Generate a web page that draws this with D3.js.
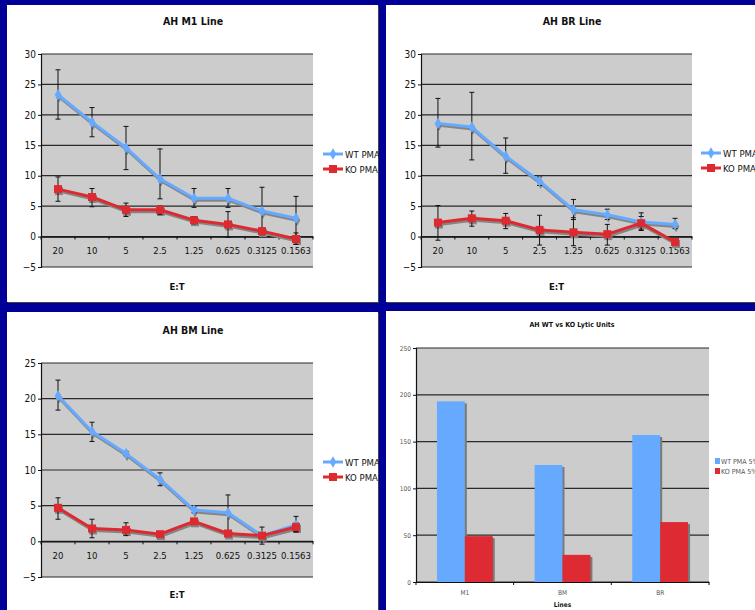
<!DOCTYPE html>
<html><head><meta charset="utf-8">
<script src="https://cdn.jsdelivr.net/npm/d3@7"></script>
<style>
html,body{margin:0;padding:0;background:#000099;overflow:hidden;}
svg{display:block;}
text{font-family:"DejaVu Sans Condensed","DejaVu Sans",sans-serif;}
</style></head>
<body>
<svg id="c" width="755" height="610"></svg>
<script>
// ---- data ----
const categories = ["20","10","5","2.5","1.25","0.625","0.3125","0.1563"];
const seriesNames = ["WT PMA","KO PMA"];

const m1WT   = [23.3,18.8,14.6,9.5,6.3,6.3,4.2,3.0];
const m1WTLo = [19.3,16.4,11.0,6.2,4.8,4.8,0.3,-0.6];
const m1WTHi = [27.4,21.2,18.1,14.4,7.9,7.9,8.1,6.6];
const m1KO   = [7.8,6.5,4.4,4.4,2.7,2.0,0.9,-0.4];
const m1KOLo = [5.8,4.9,3.3,3.6,2.1,-0.1,0.4,-1.3];
const m1KOHi = [9.8,7.9,5.5,5.0,3.3,4.1,1.4,0.6];

const brWT   = [18.6,18.0,13.2,9.1,4.4,3.6,2.4,2.0];
const brWTLo = [14.7,12.6,10.4,8.4,2.8,2.8,1.1,1.3];
const brWTHi = [22.7,23.7,16.2,9.8,6.1,4.5,3.9,3.0];
const brKO   = [2.3,3.0,2.6,1.1,0.7,0.4,2.2,-0.9];
const brKOLo = [-0.6,1.7,1.3,-1.4,-1.5,-1.4,1.0,-1.2];
const brKOHi = [5.1,4.2,3.8,3.5,3.1,2.0,3.3,-0.6];

const bmWT   = [20.4,15.4,12.3,8.7,4.4,4.0,0.8,2.3];
const bmWTLo = [18.4,14.0,12.0,7.8,4.0,1.3,-0.4,1.3];
const bmWTHi = [22.6,16.7,12.6,9.6,4.8,6.5,2.0,3.5];
const bmKO   = [4.7,1.8,1.6,1.0,2.8,1.1,0.8,2.0];
const bmKOLo = [3.1,0.5,0.8,0.7,2.4,0.8,0.4,1.4];
const bmKOHi = [6.1,3.1,2.6,1.3,3.2,1.4,1.2,2.6];

const m1Ticks = [-5,0,5,10,15,20,25,30];
const brTicks = [-5,0,5,10,15,20,25,30];
const bmTicks = [-5,0,5,10,15,20,25];

const cellLines = ["M1","BM","BR"];
const barSeries = ["WT PMA 5%","KO PMA 5%"];
const wtLytic = [193,125,157];
const koLytic = [49,29,64];
const barTicks = [0,50,100,150,200,250];

// ---- style ----
const BLUE = "#66aaff", RED = "#dd2a30", PLOT = "#cccccc", GRID = "#2a2a2a", SHADOW = "#858585";

const svg = d3.select("#c");

// panels
const panels = [[7,5,371,297],[386,5,375,297],[7,312,371,300],[386,311,375,300]];
panels.forEach(p=>{
  svg.append("rect").attr("x",p[0]+1).attr("y",p[1]+1).attr("width",p[2]).attr("height",p[3]).attr("fill","#444");
  svg.append("rect").attr("x",p[0]).attr("y",p[1]).attr("width",p[2]).attr("height",p[3]).attr("fill","#fff");
});

function lineChart(cfg){
  const g = svg.append("g");
  const x = d3.scaleBand().domain(categories).range([cfg.x0,cfg.x1]);
  const y = d3.scaleLinear().domain(cfg.domain).range([cfg.y1,cfg.y0]);
  g.append("rect").attr("x",cfg.x0).attr("y",cfg.y0).attr("width",cfg.x1-cfg.x0).attr("height",cfg.y1-cfg.y0).attr("fill",PLOT);
  g.selectAll(".gl").data(cfg.ticks).join("line")
    .attr("x1",cfg.x0).attr("x2",cfg.x1).attr("y1",d=>y(d)).attr("y2",d=>y(d))
    .attr("stroke",GRID).attr("stroke-width",1.2);
  const ya = g.append("g").attr("transform",`translate(${cfg.x0},0)`)
    .call(d3.axisLeft(y).tickValues(cfg.ticks).tickSize(3).tickPadding(2));
  ya.select(".domain").attr("stroke","#111").attr("stroke-width",1.2);
  ya.selectAll(".tick line").attr("stroke","#111");
  ya.selectAll("text").attr("font-size",10).attr("fill","#111").attr("font-family",'"DejaVu Sans Condensed",sans-serif');
  const xa = g.append("g").attr("transform",`translate(0,${y(0)})`)
    .call(d3.axisBottom(x).tickSize(0).tickPadding(11));
  xa.select(".domain").attr("stroke","#111").attr("stroke-width",1.2);
  xa.selectAll("text").attr("font-size",9.5).attr("fill","#111").attr("font-family",'"DejaVu Sans Condensed",sans-serif');
  const bounds = categories.map(c=>x(c)).concat([cfg.x1]);
  g.selectAll(".bt").data(bounds).join("line")
    .attr("x1",d=>d).attr("x2",d=>d).attr("y1",y(0)).attr("y2",y(0)+3)
    .attr("stroke","#111");
  g.append("text").attr("x",cfg.tx).attr("y",cfg.ty).attr("text-anchor","middle")
    .attr("font-size",10.5).attr("font-weight","bold").attr("fill","#111").text(cfg.title);
  g.append("text").attr("x",(cfg.x0+cfg.x1)/2).attr("y",cfg.ay).attr("text-anchor","middle")
    .attr("font-size",9.5).attr("font-weight","bold").attr("fill","#111").text("E:T");

  const cx = c=>x(c)+x.bandwidth()/2;
  const series = [
    {v:cfg.wt, lo:cfg.wtLo, hi:cfg.wtHi, color:BLUE, shape:"diamond"},
    {v:cfg.ko, lo:cfg.koLo, hi:cfg.koHi, color:RED, shape:"square"}
  ];
  const line = d3.line().x((d,i)=>cx(categories[i])).y(d=>y(d));
  const sym = {diamond:d3.symbol().type(d3.symbolDiamond).size(38), square:d3.symbol().type(d3.symbolSquare).size(64)};
  series.forEach(s=>{
    const sg = g.append("g").attr("transform","translate(1,2)");
    sg.append("path").attr("d",line(s.v)).attr("fill","none").attr("stroke",SHADOW).attr("stroke-width",3);
    sg.selectAll("path.m").data(s.v).join("path").attr("class","m")
      .attr("d",sym[s.shape]).attr("transform",(d,i)=>`translate(${cx(categories[i])},${y(d)})`).attr("fill",SHADOW);
  });
  series.forEach(s=>{
    const eg = g.append("g");
    s.v.forEach((d,i)=>{
      const xx = cx(categories[i]);
      eg.append("line").attr("x1",xx).attr("x2",xx).attr("y1",y(s.lo[i])).attr("y2",y(s.hi[i])).attr("stroke","#111").attr("stroke-width",1);
      [s.lo[i],s.hi[i]].forEach(e=>{
        eg.append("line").attr("x1",xx-2.5).attr("x2",xx+2.5).attr("y1",y(e)).attr("y2",y(e)).attr("stroke","#111").attr("stroke-width",1);
      });
    });
  });
  series.forEach(s=>{
    g.append("path").attr("d",line(s.v)).attr("fill","none").attr("stroke",s.color).attr("stroke-width",3).attr("stroke-linejoin","round");
    g.selectAll(null).data(s.v).join("path")
      .attr("d",sym[s.shape]).attr("transform",(d,i)=>`translate(${cx(categories[i])},${y(d)})`).attr("fill",s.color);
  });
  series.forEach((s,k)=>{
    const ly = cfg.ly + k*15;
    g.append("line").attr("x1",cfg.lx).attr("x2",cfg.lx+20).attr("y1",ly).attr("y2",ly).attr("stroke",s.color).attr("stroke-width",3);
    g.append("path").attr("d",sym[s.shape]).attr("transform",`translate(${cfg.lx+10},${ly})`).attr("fill",s.color);
    g.append("text").attr("x",cfg.lx+22).attr("y",ly+3.5).attr("font-size",9.5).attr("fill","#111").text(seriesNames[k]);
  });
}

lineChart({title:"AH M1 Line", x0:41, x1:313, y0:54, y1:267, domain:[-5,30], ticks:m1Ticks,
  tx:193, ty:25, ay:290, lx:323, ly:154,
  wt:m1WT, wtLo:m1WTLo, wtHi:m1WTHi, ko:m1KO, koLo:m1KOLo, koHi:m1KOHi});
lineChart({title:"AH BR Line", x0:421, x1:692, y0:54, y1:267, domain:[-5,30], ticks:brTicks,
  tx:572, ty:25, ay:290, lx:701, ly:153,
  wt:brWT, wtLo:brWTLo, wtHi:brWTHi, ko:brKO, koLo:brKOLo, koHi:brKOHi});
lineChart({title:"AH BM Line", x0:41, x1:313, y0:363, y1:577, domain:[-5,25], ticks:bmTicks,
  tx:193, ty:334, ay:598, lx:323, ly:462,
  wt:bmWT, wtLo:bmWTLo, wtHi:bmWTHi, ko:bmKO, koLo:bmKOLo, koHi:bmKOHi});

// ---- bar chart ----
(function(){
  const x0=416, x1=709, y0=348, y1=582;
  const g = svg.append("g");
  const x = d3.scaleBand().domain(cellLines).range([x0,x1]);
  const bw = x.bandwidth()/3.5;
  const y = d3.scaleLinear().domain([0,250]).range([y1,y0]);
  g.append("rect").attr("x",x0).attr("y",y0).attr("width",x1-x0).attr("height",y1-y0).attr("fill",PLOT);
  g.selectAll(".gl").data(barTicks).join("line")
    .attr("x1",x0).attr("x2",x1).attr("y1",d=>y(d)).attr("y2",d=>y(d)).attr("stroke",GRID).attr("stroke-width",1.2);
  const ya = g.append("g").attr("transform",`translate(${x0},0)`)
    .call(d3.axisLeft(y).tickValues(barTicks).tickSize(3).tickPadding(2));
  ya.select(".domain").attr("stroke","#111").attr("stroke-width",1.2);
  ya.selectAll(".tick line").attr("stroke","#111");
  ya.selectAll("text").attr("font-size",6.5).attr("fill","#555");
  const sets = [{v:wtLytic,c:BLUE,off:0.75},{v:koLytic,c:"#dd2a33",off:1.75}];
  sets.forEach(s=>{
    g.selectAll(null).data(s.v).join("rect")
      .attr("x",(d,i)=>x(cellLines[i])+s.off*bw+2).attr("y",d=>y(d)+2).attr("width",bw).attr("height",d=>y1-y(d)-2).attr("fill","#7a7a7a");
  });
  sets.forEach(s=>{
    g.selectAll(null).data(s.v).join("rect")
      .attr("x",(d,i)=>x(cellLines[i])+s.off*bw).attr("y",d=>y(d)).attr("width",bw).attr("height",d=>y1-y(d)).attr("fill",s.c);
  });
  const xa = g.append("g").attr("transform",`translate(0,${y1})`)
    .call(d3.axisBottom(x).tickSize(0).tickPadding(8));
  xa.select(".domain").attr("stroke","#111").attr("stroke-width",1.2);
  xa.selectAll("text").attr("font-size",6.5).attr("fill","#555");
  g.selectAll(".bt").data(cellLines.map(c=>x(c)).concat([x1])).join("line")
    .attr("x1",d=>d).attr("x2",d=>d).attr("y1",y1).attr("y2",y1+3).attr("stroke","#111");
  g.append("text").attr("x",572).attr("y",327).attr("text-anchor","middle").attr("font-size",7).attr("font-weight","bold").attr("fill","#111").text("AH WT vs KO Lytic Units");
  g.append("text").attr("x",(x0+x1)/2).attr("y",607).attr("text-anchor","middle").attr("font-size",6.5).attr("font-weight","bold").attr("fill","#111").text("Lines");
  [BLUE,"#dd2a33"].forEach((c,k)=>{
    const ly = 461 + k*10;
    g.append("rect").attr("x",715).attr("y",ly-3).attr("width",5).attr("height",6).attr("fill",c);
    g.append("text").attr("x",721).attr("y",ly+2.5).attr("font-size",7).attr("fill","#555").text(barSeries[k]);
  });
})();
</script>
</body></html>
